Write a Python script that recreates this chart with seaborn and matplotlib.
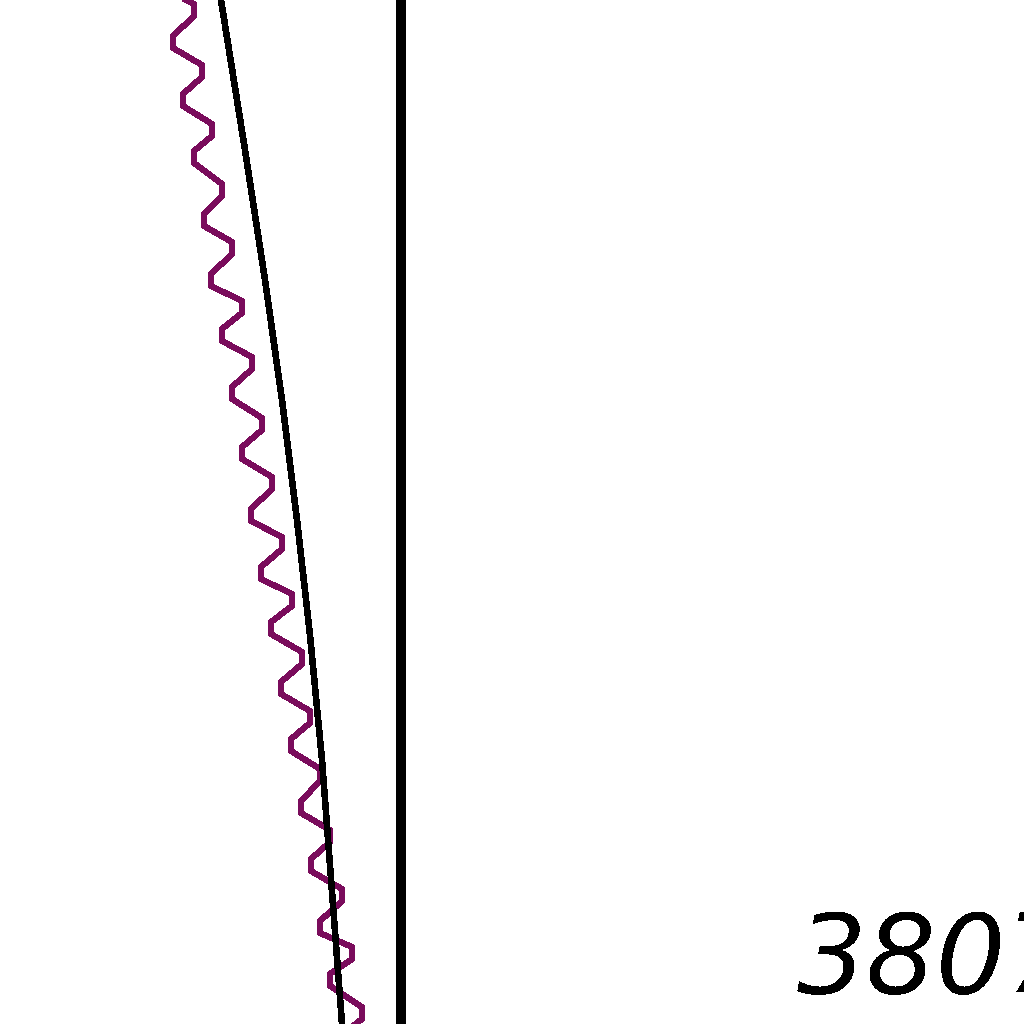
import matplotlib
matplotlib.use('Agg')
import matplotlib.pyplot as plt
import seaborn as sns
import pandas as pd

sns.set_theme(style="white")
plt.rcParams['font.family'] = ['DejaVu Sans']

# wave (purple): points, top to bottom
# (each turning point has a short flat stretch)
wave_depth = [-24, -12, 4, 16, 36, 48, 65, 77, 94, 106, 124, 136,
              151, 163, 184, 196, 214, 226, 242, 254, 274, 286,
              301, 313, 329, 341, 357, 369, 387, 399, 418, 430,
              447, 459, 477, 489, 509, 521, 537, 549, 567, 579,
              594, 606, 622, 634, 652, 664, 682, 694, 711, 723,
              739, 751, 769, 781, 801, 813, 830, 842, 859, 871,
              889, 901, 921, 933, 947, 959, 974, 986, 1007, 1019,
              1039, 1051]
wave_pos = [163, 163, 194, 194, 173, 173, 202, 202, 183, 183, 212, 212,
            194, 194, 222, 222, 204, 204, 232, 232, 211, 211,
            242, 242, 222, 222, 252, 252, 232, 232, 262, 262,
            242, 242, 272, 272, 251, 251, 282, 282, 261, 261,
            292, 292, 271, 271, 302, 302, 281, 281, 310, 310,
            291, 291, 320, 320, 301, 301, 330, 330, 311, 311,
            342, 342, 320, 320, 352, 352, 330, 330, 362, 362,
            336, 336]

# trend (black)
trend_depth = [0, 150, 280, 400, 520, 635, 760, 1024]
trend_pos = [221, 245, 265, 282, 297, 310, 322, 342]

# vertical reference
ref_pos = 401
label_text = "3807"
label_x, label_y = 797, 993

wave = pd.DataFrame({'depth': wave_depth, 'pos': wave_pos})
trend = pd.DataFrame({'depth': trend_depth, 'pos': trend_pos})

fig = plt.figure(figsize=(10.24, 10.24), dpi=100)
ax = fig.add_axes([0, 0, 1, 1])
ax.set_facecolor('white')

sns.lineplot(data=wave, x='pos', y='depth', sort=False, estimator=None,
             color='#7a0c5c', linewidth=3.6, antialiased=False, ax=ax)
sns.lineplot(data=trend, x='pos', y='depth', sort=False, estimator=None,
             color='black', linewidth=4.0, antialiased=False, ax=ax)
ax.axvline(ref_pos, color='black', linewidth=7.2, antialiased=False)

ax.text(label_x, label_y, label_text, fontsize=79, fontstyle='italic',
        color='black', ha='left', va='baseline', antialiased=False)

ax.set_xlim(0, 1024)
ax.set_ylim(1024, 0)
ax.set_axis_off()

plt.savefig('out.png', dpi=100, facecolor='white')
plt.close()
